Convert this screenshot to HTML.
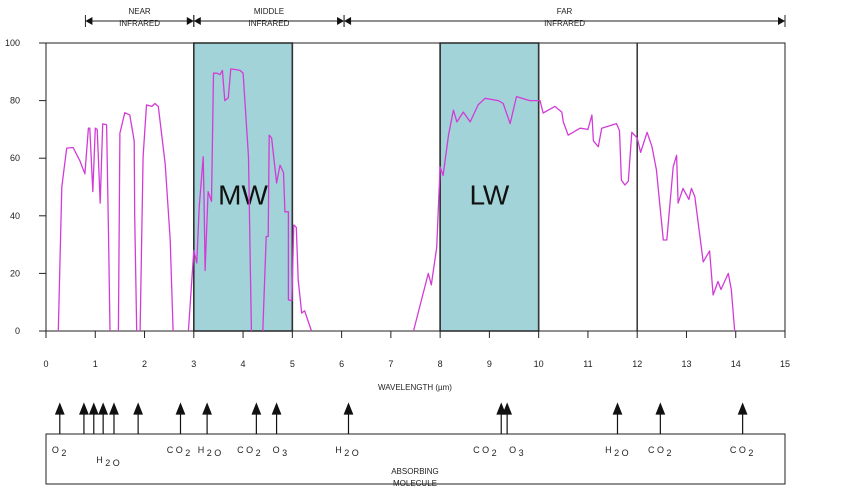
<!DOCTYPE html>
<html><head><meta charset="utf-8"><style>
body{margin:0;background:#fff;}
svg{display:block;font-family:"Liberation Sans",sans-serif;}
</style></head><body>
<svg id="chart" width="850" height="497"></svg>
<script>
const wl=[0.25,0.32,0.42,0.55,0.69,0.79,0.86,0.89,0.95,1.0,1.04,1.10,1.15,1.23,1.27,1.30,null,
1.47,1.50,1.60,1.70,1.79,1.80,1.84,null,
1.91,1.97,2.04,2.15,2.21,2.28,2.42,2.52,2.58,null,
2.89,3.0,3.06,3.11,3.19,3.21,3.23,3.29,3.36,3.40,3.47,3.53,3.58,3.63,3.70,3.75,3.94,4.00,4.11,4.17,null,
4.40,4.47,4.51,4.53,4.58,4.68,4.75,4.82,4.85,4.92,4.92,4.99,5.03,5.08,5.12,5.19,5.25,5.39,null,
7.46,7.76,7.82,7.93,8.0,8.06,8.17,8.27,8.34,8.47,8.61,8.77,8.91,9.18,9.28,9.42,9.55,9.82,10.03,10.09,10.33,10.47,10.50,10.6,10.84,11.0,11.08,11.11,11.21,11.28,11.58,11.64,11.68,11.75,11.82,11.89,12.0,12.07,12.2,12.3,12.39,12.53,12.6,12.73,12.8,12.83,12.93,13.05,13.1,13.17,13.34,13.47,13.54,13.64,13.7,13.85,13.91,13.98];
const trans=[0,50,63.5,63.7,59,54.6,70.4,70.4,48.4,70.4,70,44.4,71.9,71.6,31.6,0,null,
0,68.7,75.8,75,66,40,0,null,
0,60.5,78.5,78,79,78,58,31.6,0,null,
0,28,23.6,43,60.5,45,21,48.4,45,89.5,89.5,89,90.5,80,81,91,90.5,89.5,60.5,0,null,
0,32.8,32.8,68,67,51.4,57.6,55,41.4,41.4,10.8,10.5,36.8,36,17.7,6.2,7,0,null,
0,20,16,29,57,54,68,76.7,72.6,76,72.6,78.5,80.8,80,79,72,81.4,80,80,75.7,78,76,72.6,68,70.4,70,75,66,64,70.4,72,69.5,52.4,50.7,52,69,67,62,69,64,56,31.6,31.6,57,61,44.4,49.5,45.7,49.5,46.7,24,27.8,12.5,17.2,14.4,20,14.4,0];
const xTicks=[0,1,2,3,4,5,6,7,8,9,10,11,12,13,14,15];
const yTicks=[0,20,40,60,80,100];
const bands=[{name:'MW',from:3,to:5},{name:'LW',from:8,to:10}];
const gridLines=[3,5,8,10,12];
const arrowWl=[0.28,0.77,0.97,1.16,1.38,1.87,2.73,3.27,4.27,4.68,6.14,9.24,9.36,11.6,12.47,14.14];
const molLabels=[["O","2",0.12,453],["H","2 O",1.02,463],["C O","2",2.45,453],["H","2 O",3.08,453],["C O","2",3.88,453],["O","3",4.6,453],["H","2 O",5.87,453],["C O","2",8.67,453],["O","3",9.4,453],["H","2 O",11.35,453],["C O","2",12.22,453],["C O","2",13.88,453]];
const regions=[["NEAR","INFRARED",0.8,3],["MIDDLE","INFRARED",3,6.05],["FAR","INFRARED",6.05,15]];

const X0=46,X1=785,Y0=331,Y1=43;
const sx=v=>X0+(X1-X0)*v/15, sy=v=>Y0-(Y0-Y1)*v/100;
const svg=document.getElementById('chart');
const NS='http://www.w3.org/2000/svg';
function mk(t,a,txt){const e=document.createElementNS(NS,t);for(const k in a)e.setAttribute(k,a[k]);if(txt!=null)e.textContent=txt;svg.appendChild(e);return e;}

bands.forEach(b=>{
 const r=mk('rect',{x:sx(b.from),y:Y1,width:sx(b.to)-sx(b.from),height:Y0-Y1,fill:'#a2d3d8',stroke:'#333','stroke-width':1.5});
 
 
 const t=mk('text',{x:(sx(b.from)+sx(b.to))/2,y:sy(44),'font-size':28,'text-anchor':'middle',fill:'#111'},b.name);
 
 
});
gridLines.forEach(g=>{
 const l=mk('line',{x1:sx(g),x2:sx(g),y1:Y1,y2:Y0,stroke:'#333','stroke-width':1.5});
 
 
});
const frame=mk('rect',{x:X0,y:Y1,width:X1-X0,height:Y0-Y1,fill:'none',stroke:'#222','stroke-width':1});


let d='',pen=false;
wl.forEach((w,i)=>{if(w==null){pen=false;return;}d+=(pen?'L':'M')+sx(w).toFixed(1)+','+sy(trans[i]).toFixed(1);pen=true;});
const curve=mk('path',{d:d,fill:'none',stroke:'#d23cd6','stroke-width':1.3,'stroke-linejoin':'round'});


xTicks.forEach(v=>{
 const l=mk('line',{x1:sx(v),x2:sx(v),y1:Y0,y2:Y0+7,stroke:'#222'});
 
 
 const t=mk('text',{x:sx(v),y:367,'font-size':9,'text-anchor':'middle',fill:'#222'},v);
 
 
});
yTicks.forEach(v=>{
 const l=mk('line',{x1:X0-7,x2:X0,y1:sy(v),y2:sy(v),stroke:'#222'});
 
 
 const t=mk('text',{x:20,y:sy(v)+3,'font-size':9,'text-anchor':'end',fill:'#222'},v);
 
 
});
const xt=mk('text',{x:415,y:390,'font-size':8,'text-anchor':'middle',fill:'#222'},'WAVELENGTH (µm)');


regions.forEach(r=>{
 const a=sx(r[2]),b=sx(r[3]);
 const l=mk('line',{x1:a,x2:b,y1:21,y2:21,stroke:'#222'});
 
 
 mk('line',{x1:a,x2:a,y1:15,y2:27,stroke:'#222'});
 mk('line',{x1:b,x2:b,y1:15,y2:27,stroke:'#222'});
 mk('path',{d:`M${a},21 l7,-4 v8 z M${b},21 l-7,-4 v8 z`,fill:'#111'});
 const t1=mk('text',{x:(a+b)/2,y:14,'font-size':8,'text-anchor':'middle',fill:'#222'},r[0]);
 
 
 mk('text',{x:(a+b)/2,y:26,'font-size':8,'text-anchor':'middle',fill:'#222'},r[1]);
});
const box=mk('rect',{x:X0,y:434,width:X1-X0,height:50,fill:'none',stroke:'#222','stroke-width':1});


arrowWl.forEach(w=>{
 const x=sx(w);
 const a=mk('path',{d:`M${x},434 V411 M${x-4},414 L${x},404 L${x+4},414 Z`,stroke:'#111','stroke-width':1.2,fill:'#111'});
 
 
});
molLabels.forEach(m=>{
 const t=mk('text',{x:sx(m[2]),y:m[3],'font-size':9,fill:'#222'});
 
 
 const s1=document.createElementNS(NS,'tspan');s1.textContent=m[0]+' ';t.appendChild(s1);
 const s2=document.createElementNS(NS,'tspan');s2.setAttribute('dy','3');s2.textContent=m[1];t.appendChild(s2);
});
const ab=mk('text',{x:415,y:474,'font-size':8,'text-anchor':'middle',fill:'#222'},'ABSORBING');


mk('text',{x:415,y:486,'font-size':8,'text-anchor':'middle',fill:'#222'},'MOLECULE');
</script>
</body></html>
